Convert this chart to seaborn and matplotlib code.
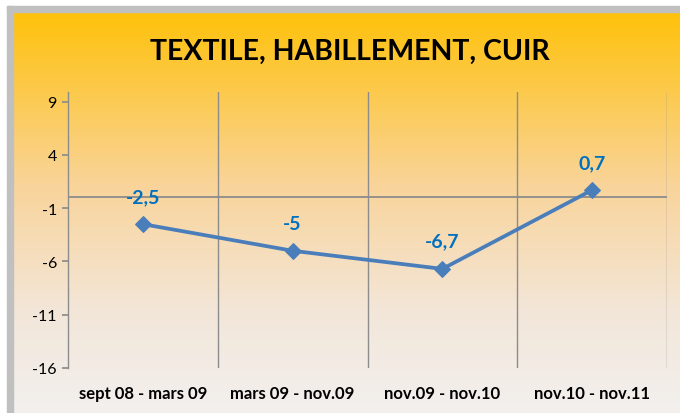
import matplotlib
matplotlib.use("Agg")
import matplotlib.pyplot as plt
from matplotlib.colors import LinearSegmentedColormap
from matplotlib.patches import Rectangle
import seaborn as sns
import pandas as pd
import numpy as np

# Données du graphique
periodes = ["sept 08 - mars 09", "mars 09 - nov.09", "nov.09 - nov.10", "nov.10 - nov.11"]
valeurs = [-2.5, -5.0, -6.7, 0.7]
etiquettes = ["-2,5", "-5", "-6,7", "0,7"]
y_ticks = [9, 4, -1, -6, -11, -16]

sns.set_theme(style="white")
plt.rcParams['font.family'] = ['Lato', 'DejaVu Sans']

df = pd.DataFrame({"periode": periodes, "valeur": valeurs})

fig = plt.figure(figsize=(6.8, 4.14), dpi=100)
fig.patch.set_facecolor("white")

# Fond en dégradé (orange vers gris clair)
bg = fig.add_axes([0, 0, 1, 1], zorder=0)
cmap = LinearSegmentedColormap.from_list(
    "fond", [(0, "#FFC000"), (0.45, "#F9D49A"), (0.75, "#F3E6D8"), (1, "#F2F0EE")])
grad = np.linspace(0, 1, 256).reshape(-1, 1)
bg.imshow(grad, aspect="auto", cmap=cmap, extent=[0, 1, 0, 1], origin="upper")
bg.set_xlim(0, 1)
bg.set_ylim(0, 1)
bg.axis("off")
# bordure grise et marge blanche (haut et gauche)
W, H = 680, 414
bg.add_patch(Rectangle((0, 1 - 7 / H), 1, 7 / H, color="white", zorder=2))
bg.add_patch(Rectangle((0, 0), 7 / W, 1, color="white", zorder=2))
bg.add_patch(Rectangle((7 / W, 1 - 13 / H), 1, 6 / H, color="#C0C0C0", zorder=3))
bg.add_patch(Rectangle((7 / W, 0), 6 / W, 1 - 7 / H, color="#C0C0C0", zorder=3))

fig.text(350 / W, 1 - 52 / H, "TEXTILE, HABILLEMENT, CUIR", ha="center", va="center",
         fontsize=20.5, fontweight="bold", color="black")

ax = fig.add_axes([68 / W, 1 - 369 / H, (667 - 68) / W, (369 - 93) / H], zorder=1)
ax.patch.set_alpha(0)

sns.lineplot(data=df, x="periode", y="valeur", ax=ax, sort=False, color="#4A7EBB",
             linewidth=2.7, marker="D", markersize=8, markeredgecolor="#4A7EBB")

ax.set_xlim(-0.5, 3.5)
ax.set_ylim(-16, 9.9)
ax.set_yticks(y_ticks)
ax.set_yticklabels([str(t) for t in y_ticks], fontsize=11.5, color="black")
ax.set_xticks(range(len(periodes)))
ax.set_xticklabels(periodes, fontsize=12, fontweight="bold", color="black")
ax.set_xlabel("")
ax.set_ylabel("")

# lignes verticales entre catégories
for xv in [0.5, 1.5, 2.5, 3.5]:
    ax.axvline(xv, color="#8C8C8C", linewidth=1, zorder=0.5)
ax.axhline(0, color="#8C8C8C", linewidth=1.3, zorder=0.5)

for s in ["top", "right", "bottom"]:
    ax.spines[s].set_visible(False)
ax.spines["left"].set_color("#8C8C8C")
ax.spines["left"].set_linewidth(1)
ax.tick_params(axis="y", left=True, length=4, color="#8C8C8C", pad=4)
ax.tick_params(axis="x", bottom=False, length=0, pad=12)

for i, (v, lab) in enumerate(zip(valeurs, etiquettes)):
    ax.annotate(lab, (i, v), xytext=(0, 20), textcoords="offset points", ha="center",
                va="center", fontsize=14, fontweight="bold", color="#0070C0")

fig.savefig("out.png", dpi=100)
